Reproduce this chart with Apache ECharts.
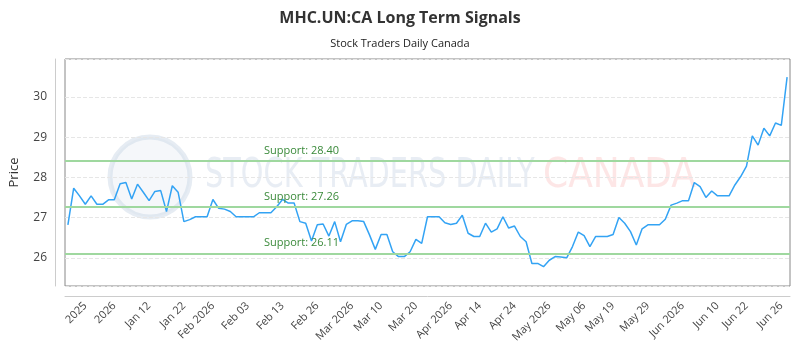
<!DOCTYPE html>
<html>
<head>
<meta charset="utf-8">
<script src="https://cdn.jsdelivr.net/npm/echarts@6/dist/echarts.min.js"></script>
<style>
  html, body { margin: 0; padding: 0; background: #fff; }
  #main { width: 800px; height: 350px; }
</style>
</head>
<body>
<div id="main"></div>
<script>
// daily closing prices
var prices = [
  26.82, 27.73, 27.54, 27.33, 27.54, 27.33, 27.33, 27.44, 27.44, 27.84,
  27.87, 27.46, 27.83, 27.63, 27.42, 27.65, 27.67, 27.15, 27.79, 27.63,
  26.90, 26.95, 27.02, 27.02, 27.02, 27.45, 27.23, 27.21, 27.15, 27.02,
  27.02, 27.02, 27.02, 27.12, 27.12, 27.12, 27.27, 27.45, 27.36, 27.36,
  26.90, 26.86, 26.42, 26.82, 26.84, 26.54, 26.90, 26.40, 26.83, 26.92,
  26.92, 26.90, 26.57, 26.21, 26.58, 26.58, 26.15, 26.03, 26.03, 26.15,
  26.46, 26.36, 27.02, 27.02, 27.02, 26.87, 26.83, 26.86, 27.06, 26.61,
  26.53, 26.53, 26.86, 26.64, 26.72, 27.02, 26.74, 26.79, 26.53, 26.40,
  25.86, 25.86, 25.78, 25.94, 26.03, 26.02, 26.00, 26.28, 26.64, 26.55,
  26.28, 26.53, 26.53, 26.53, 26.58, 27.00, 26.86, 26.65, 26.32, 26.72,
  26.82, 26.82, 26.82, 26.96, 27.31, 27.36, 27.42, 27.42, 27.87, 27.77,
  27.50, 27.66, 27.54, 27.54, 27.54, 27.81, 28.02, 28.28, 29.03, 28.80,
  29.22, 29.03, 29.35, 29.29, 30.49
];

// x axis tick labels and the day index they sit on
var tickLabels = ['2025', '2026', 'Jan 12', 'Jan 22', 'Feb 2026', 'Feb 03', 'Feb 13', 'Feb 26',
  'Mar 2026', 'Mar 10', 'Mar 20', 'Apr 2026', 'Apr 14', 'Apr 24', 'May 2026', 'May 06',
  'May 19', 'May 29', 'Jun 2026', 'Jun 10', 'Jun 22', 'Jun 26'];
var tickIdx = [3, 8, 14, 20, 25, 31, 37, 43, 49, 54, 60, 66, 71, 77, 83, 89, 94, 100, 106, 112, 117, 123];

// support levels
var supports = [28.40, 27.26, 26.11];

var days = prices.map(function (p, i) { return String(i); });

var chart = echarts.init(document.getElementById('main'), null, { renderer: 'canvas' });

var option = {
  backgroundColor: '#fff',
  animation: false,
  title: {
    text: 'MHC.UN:CA Long Term Signals',
    subtext: 'Stock Traders Daily Canada',
    left: 'center',
    top: 5,
    itemGap: 12,
    textStyle: { fontFamily: 'Open Sans', fontWeight: 'bold', fontSize: 16, color: '#333' },
    subtextStyle: { fontFamily: 'Open Sans', fontSize: 11, color: '#222' }
  },
  // faint watermark behind the plot
  graphic: [
    {
      type: 'circle', z: 0, silent: true,
      shape: { cx: 150, cy: 177, r: 40 },
      style: { fill: 'rgba(225,232,242,0.35)', stroke: 'rgba(200,212,228,0.45)', lineWidth: 5 }
    },
    {
      type: 'text', z: 0, silent: true, x: 205, y: 157, scaleX: 0.8,
      style: { text: 'STOCK TRADERS DAILY', font: '40px "DejaVu Sans Condensed"', fill: 'rgba(205,215,230,0.45)' }
    },
    {
      type: 'text', z: 0, silent: true, x: 543, y: 157,
      style: { text: 'CANADA', font: '40px "DejaVu Sans Condensed"', fill: 'rgba(250,200,200,0.45)' }
    }
  ],
  grid: {
    left: 60, right: 10, top: 59, bottom: 64,
    show: true, borderColor: '#888', borderWidth: 1, backgroundColor: 'transparent'
  },
  xAxis: {
    type: 'category',
    data: days,
    boundaryGap: true,
    offset: 10,
    axisLine: { lineStyle: { color: '#ccc' } },
    axisTick: { show: false },
    axisLabel: {
      rotate: 45,
      fontFamily: 'Open Sans',
      fontSize: 11,
      color: '#444',
      margin: 8,
      interval: function (i) { return tickIdx.indexOf(i) >= 0; },
      formatter: function (v, i) {
        var k = tickIdx.indexOf(i);
        return k >= 0 ? tickLabels[k] : '';
      }
    },
    splitLine: { show: false }
  },
  yAxis: {
    type: 'value',
    min: 25.30,
    max: 30.94,
    splitNumber: 5,
    offset: 10,
    name: 'Price',
    nameLocation: 'middle',
    nameGap: 34,
    nameTextStyle: { fontFamily: 'Open Sans', fontSize: 13, color: '#333' },
    axisLine: { show: true, lineStyle: { color: '#ccc' } },
    axisTick: { show: false },
    axisLabel: {
      fontFamily: 'Open Sans', fontSize: 12, color: '#444',
      showMinLabel: false, showMaxLabel: false,
      formatter: function (v) { return Math.abs(v - Math.round(v)) < 1e-6 ? String(v) : ''; }
    },
    splitLine: { show: true, lineStyle: { color: '#e6e6e6', type: 'dashed' } }
  },
  series: [{
    type: 'line',
    data: prices,
    z: 3,
    showSymbol: false,
    symbol: 'none',
    lineStyle: { color: '#33a3f4', width: 1.5 },
    markLine: {
      silent: true,
      symbol: 'none',
      animation: false,
      lineStyle: { color: '#9fd89f', width: 2, type: 'solid' },
      label: {
        position: 'insideStartTop',
        padding: [0, 0, 0, 194],
        fontFamily: 'Open Sans',
        fontSize: 11,
        color: '#3a8a3a',
        formatter: function (p) { return 'Support: ' + p.value.toFixed(2); }
      },
      data: supports.map(function (s) { return { yAxis: s }; })
    }
  }]
};

chart.setOption(option);
</script>
</body>
</html>
